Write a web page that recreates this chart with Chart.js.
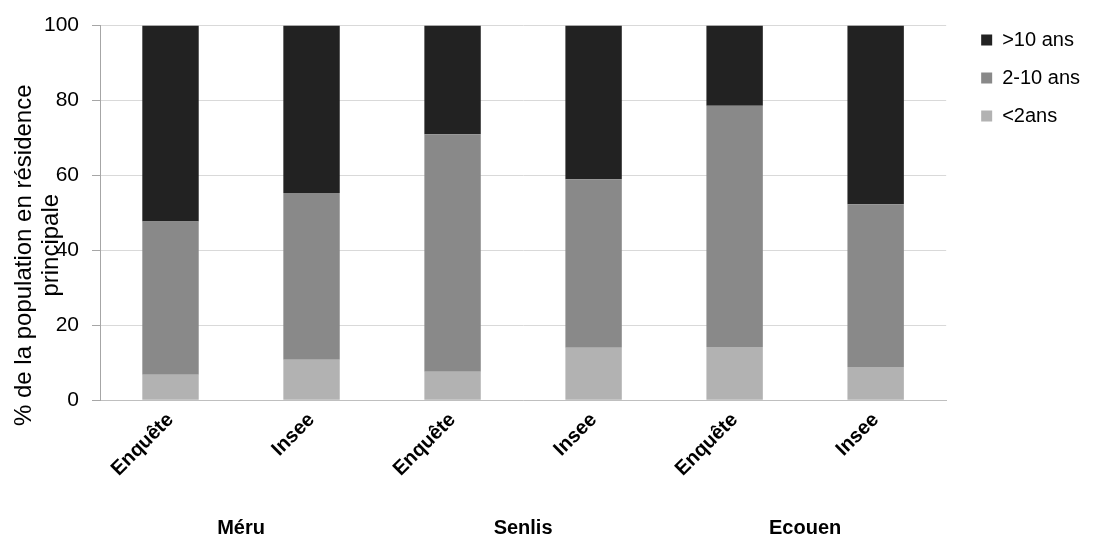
<!DOCTYPE html>
<html>
<head>
<meta charset="utf-8">
<script src="https://cdn.jsdelivr.net/npm/chart.js@4.4.1/dist/chart.umd.min.js"></script>
<style>
  html, body { margin: 0; padding: 0; background: #fff; }
  #wrap { width: 1107px; height: 541px; }
</style>
</head>
<body>
<div id="wrap"><canvas id="myChart"></canvas></div>
<script>
var sources = ['Enquête', 'Insee', 'Enquête', 'Insee', 'Enquête', 'Insee'];
var towns = ['Méru', 'Senlis', 'Ecouen'];
var moins2 = [6.8, 10.8, 7.6, 14.0, 14.2, 8.9];
var de2a10 = [40.9, 44.5, 63.4, 45.0, 64.4, 43.4];
var plus10 = [52.3, 44.7, 29.0, 41.0, 21.4, 47.7];
var yTicks = [0, 20, 40, 60, 80, 100];
var yTitle = ['% de la population en résidence', 'principale'];

var font = 'Liberation Sans, Arial, sans-serif';
Chart.defaults.font.family = font;
Chart.defaults.color = '#000';

// titre de l'axe Y dessine a la main (il chevauche les graduations comme dans l'original)
var yTitlePlugin = {
    id: 'yTitle',
    afterDraw: function (chart) {
        var c = chart.ctx;
        var area = chart.chartArea;
        c.save();
        c.fillStyle = '#000';
        c.font = '24px ' + font;
        c.textAlign = 'center';
        c.textBaseline = 'middle';
        c.translate(0, area.bottom - 145);
        c.rotate(-Math.PI / 2);
        c.fillText(yTitle[0], 0, 24);
        c.fillText(yTitle[1], 10, 51);
        c.restore();
    }
};

var ctx = document.getElementById('myChart').getContext('2d');
var myChart = new Chart(ctx, {
    type: 'bar',
    data: {
        labels: sources,
        datasets: [
            { label: '<2ans', data: moins2, backgroundColor: '#b2b2b2' },
            { label: '2-10 ans', data: de2a10, backgroundColor: '#898989' },
            { label: '>10 ans', data: plus10, backgroundColor: '#222222' }
        ]
    },
    options: {
        responsive: true,
        maintainAspectRatio: false,
        animation: false,
        datasets: { bar: { barPercentage: 0.4, categoryPercentage: 1 } },
        layout: { padding: { top: 12, right: 17, bottom: 0, left: 0 } },
        plugins: {
            tooltip: { enabled: false },
            legend: {
                position: 'right',
                align: 'start',
                reverse: true,
                labels: {
                    boxWidth: 11,
                    boxHeight: 11,
                    padding: 18,
                    font: { size: 20 },
                    color: '#000'
                }
            }
        },
        scales: {
            x: {
                stacked: true,
                grid: { display: false },
                border: { display: true, color: '#bfbfbf' },
                ticks: {
                    minRotation: 45,
                    maxRotation: 45,
                    padding: 0,
                    font: { size: 20, weight: 'bold' }
                }
            },
            x2: {
                type: 'category',
                labels: towns,
                position: 'bottom',
                offset: true,
                grid: { display: false },
                border: { display: false },
                ticks: { padding: 27, font: { size: 20, weight: 'bold' } },
                afterFit: function (scale) { scale.height = 60; }
            },
            y: {
                stacked: true,
                min: 0,
                max: 100,
                afterBuildTicks: function (scale) {
                    scale.ticks = yTicks.map(function (v) { return { value: v }; });
                },
                afterFit: function (scale) { scale.width = 100; },
                grid: { color: '#d9d9d9', tickColor: '#a6a6a6', tickLength: 8 },
                border: { color: '#a6a6a6' },
                ticks: { padding: 13, font: { size: 21 } }
            },
            yPad: {
                position: 'right',
                display: true,
                grid: { display: false },
                border: { display: false },
                ticks: { display: false },
                afterFit: function (scale) { scale.width = 17; }
            }
        }
    },
    plugins: [yTitlePlugin]
});
</script>
</body>
</html>
